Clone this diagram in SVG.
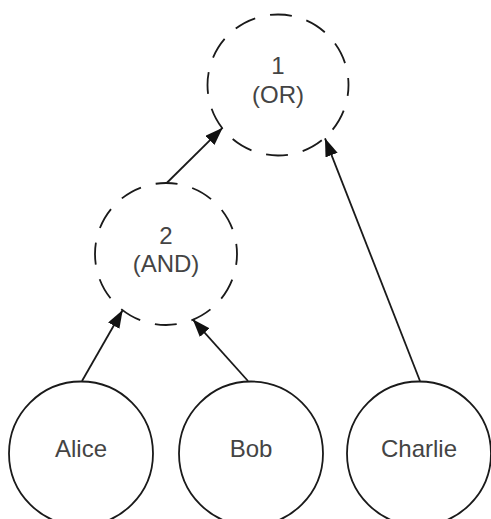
<svg xmlns="http://www.w3.org/2000/svg" width="491" height="519" viewBox="0 0 491 519">
  <style>
    .bg { fill: #ffffff; }
    .gate { fill: none; stroke: #1a1a1a; stroke-width: 1.8; stroke-dasharray: 22 15.18; stroke-dashoffset: 11; }
    .leaf { fill: none; stroke: #1a1a1a; stroke-width: 1.8; }
    .label { font-family: "Liberation Sans", Arial, sans-serif; font-size: 24px; fill: #444444; text-anchor: middle; }
    .edge { stroke: #1a1a1a; stroke-width: 1.8; fill: none; marker-end: url(#arrow); }
  </style>
  <defs>
    <marker id="arrow" markerUnits="userSpaceOnUse" markerWidth="19" markerHeight="13" refX="18" refY="6.5" orient="auto">
      <path d="M0,0 L18,6.5 L0,13 z" fill="#111111"/>
    </marker>
  </defs>
  <rect class="bg" x="0" y="0" width="491" height="519"/>

  <g id="edges">
    <line class="edge" x1="82" y1="381" x2="122.7" y2="310"/>
    <line class="edge" x1="248" y1="381" x2="192.7" y2="319.3"/>
    <line class="edge" x1="420" y1="381" x2="325" y2="138.3"/>
    <line class="edge" x1="166.7" y1="183" x2="222.7" y2="127.7"/>
  </g>

  <g id="node-1">
    <circle class="gate" cx="278" cy="85" r="70.5"/>
    <text class="label" x="278" y="74">1</text>
    <text class="label" x="278" y="103">(OR)</text>
  </g>

  <g id="node-2">
    <circle class="gate" cx="166" cy="254" r="71"/>
    <text class="label" x="166" y="244">2</text>
    <text class="label" x="166" y="272">(AND)</text>
  </g>

  <g id="node-alice">
    <circle class="leaf" cx="81" cy="453.5" r="72"/>
    <text class="label" x="81" y="457">Alice</text>
  </g>

  <g id="node-bob">
    <circle class="leaf" cx="251" cy="453.5" r="72"/>
    <text class="label" x="251" y="457">Bob</text>
  </g>

  <g id="node-charlie">
    <circle class="leaf" cx="419" cy="453.5" r="72"/>
    <text class="label" x="419" y="457">Charlie</text>
  </g>
</svg>
